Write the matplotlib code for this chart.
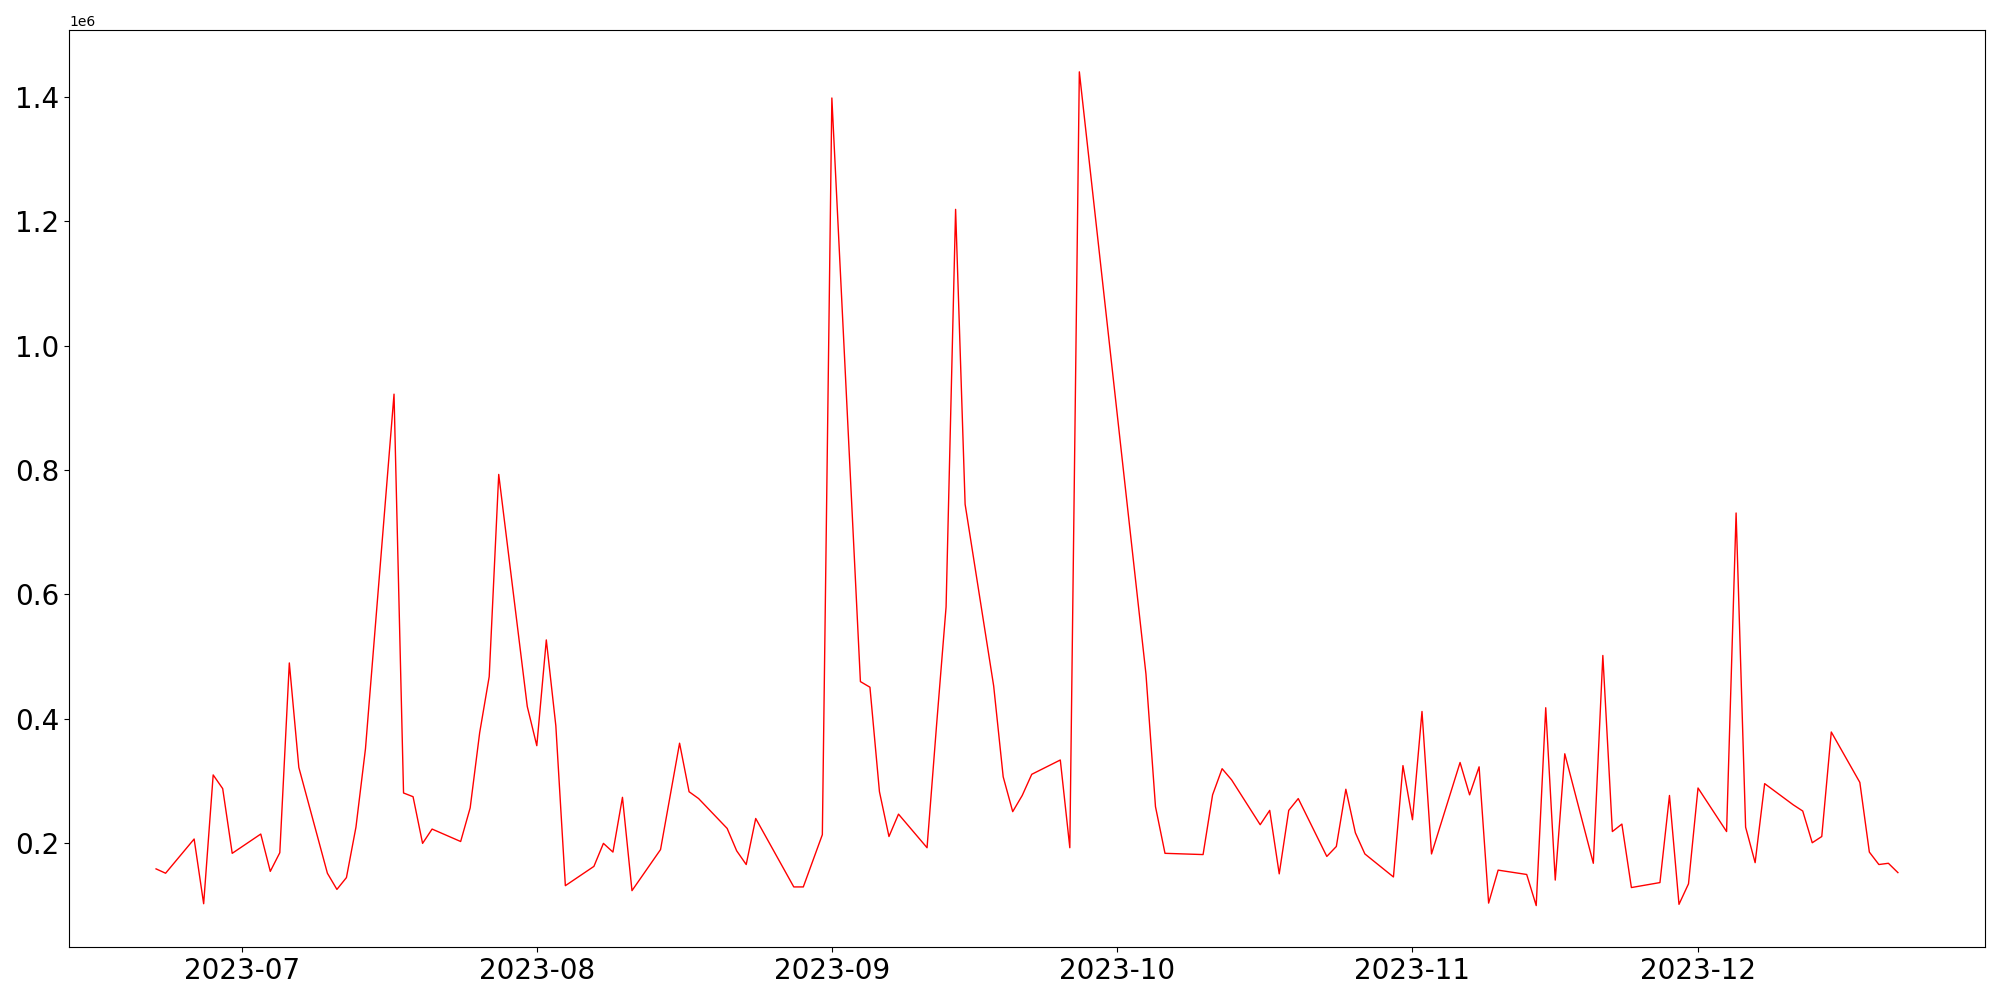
"""Daily series, Jun-Dec 2023"""

import pandas as pd
from matplotlib import pyplot as plt

## Data (business days only)
dates = [
    '2023-06-22', '2023-06-23', '2023-06-26', '2023-06-27', '2023-06-28', '2023-06-29', '2023-06-30',
    '2023-07-03', '2023-07-04', '2023-07-05', '2023-07-06', '2023-07-07',
    '2023-07-10', '2023-07-11', '2023-07-12', '2023-07-13', '2023-07-14',
    '2023-07-17', '2023-07-18', '2023-07-19', '2023-07-20', '2023-07-21',
    '2023-07-24', '2023-07-25', '2023-07-26', '2023-07-27', '2023-07-28',
    '2023-07-31', '2023-08-01', '2023-08-02', '2023-08-03', '2023-08-04',
    '2023-08-07', '2023-08-08', '2023-08-09', '2023-08-10', '2023-08-11',
    '2023-08-14', '2023-08-16', '2023-08-17', '2023-08-18',
    '2023-08-21', '2023-08-22', '2023-08-23', '2023-08-24',
    '2023-08-28', '2023-08-29', '2023-08-31', '2023-09-01',
    '2023-09-04', '2023-09-05', '2023-09-06', '2023-09-07', '2023-09-08',
    '2023-09-11', '2023-09-12', '2023-09-13', '2023-09-14', '2023-09-15',
    '2023-09-18', '2023-09-19', '2023-09-20', '2023-09-21', '2023-09-22',
    '2023-09-25', '2023-09-26', '2023-09-27',
    '2023-10-04', '2023-10-05', '2023-10-06',
    '2023-10-10', '2023-10-11', '2023-10-12', '2023-10-13',
    '2023-10-16', '2023-10-17', '2023-10-18', '2023-10-19', '2023-10-20',
    '2023-10-23', '2023-10-24', '2023-10-25', '2023-10-26', '2023-10-27',
    '2023-10-30', '2023-10-31', '2023-11-01', '2023-11-02', '2023-11-03',
    '2023-11-06', '2023-11-07', '2023-11-08', '2023-11-09', '2023-11-10',
    '2023-11-13', '2023-11-14', '2023-11-15', '2023-11-16', '2023-11-17',
    '2023-11-20', '2023-11-21', '2023-11-22', '2023-11-23', '2023-11-24',
    '2023-11-27', '2023-11-28', '2023-11-29', '2023-11-30', '2023-12-01',
    '2023-12-04', '2023-12-05', '2023-12-06', '2023-12-07', '2023-12-08',
    '2023-12-11', '2023-12-12', '2023-12-13', '2023-12-14', '2023-12-15',
    '2023-12-18', '2023-12-19', '2023-12-20', '2023-12-21', '2023-12-22',
]

values = [
    159000, 152000, 207000, 103000, 310000, 288000, 184000,
    215000, 155000, 185000, 490000, 322000,
    152000, 126000, 145000, 226000, 352000,
    922000, 281000, 275000, 200000, 223000,
    203000, 257000, 378000, 468000, 793000,
    420000, 357000, 527000, 389000, 132000,
    163000, 200000, 186000, 274000, 124000,
    190000, 361000, 283000, 272000,
    224000, 188000, 166000, 240000,
    130000, 130000, 214000, 1398000,
    460000, 451000, 283000, 211000, 247000,
    193000, 390000, 580000, 1219000, 745000,
    453000, 307000, 251000, 277000, 311000,
    334000, 193000, 1440000,
    472000, 259000, 184000,
    182000, 278000, 320000, 302000,
    230000, 253000, 151000, 253000, 272000,
    179000, 195000, 287000, 217000, 183000,
    146000, 325000, 238000, 412000, 183000,
    330000, 278000, 323000, 104000, 157000,
    150000, 100000, 418000, 141000, 344000,
    168000, 502000, 219000, 231000, 129000,
    137000, 277000, 102000, 135000, 289000,
    219000, 731000, 226000, 169000, 296000,
    262000, 252000, 201000, 211000, 379000,
    298000, 186000, 166000, 168000, 153000,
]

x = pd.to_datetime(dates)

##
plt.figure(figsize=(20, 10))
plt.plot(x, values, 'r-', linewidth=1)
plt.xticks(fontsize=20)
plt.yticks(fontsize=20)
plt.tight_layout()
plt.savefig('out.png', dpi=100)
